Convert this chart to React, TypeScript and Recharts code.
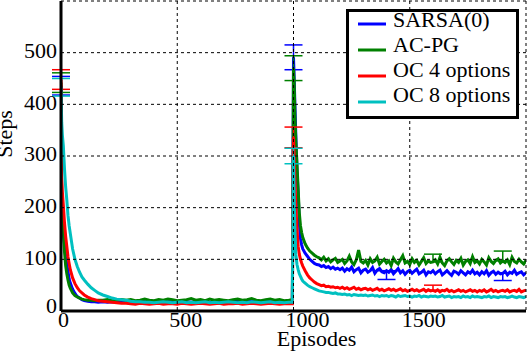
import { CartesianGrid, ErrorBar, Line, LineChart, XAxis, YAxis } from "recharts";

const episodes = [
  0, 3, 6, 10, 15, 20, 25, 30, 35, 40,
  50, 60, 70, 80, 90, 100, 115, 130, 145, 160,
  180, 200, 220, 240, 260, 280,
  300, 320, 340, 360, 380, 400, 420, 440, 460, 480,
  500, 520, 540, 560, 580, 600, 620, 640, 660, 680,
  700, 720, 740, 760, 780, 800, 820, 840, 860, 880,
  900, 920, 940, 960, 980, 995,
  1000, 1003, 1006, 1010, 1015, 1020, 1025, 1030, 1035, 1040,
  1050, 1060, 1070, 1080, 1090, 1100,
  1110, 1120, 1130, 1140, 1150, 1160, 1170, 1180, 1190, 1200,
  1210, 1220, 1230, 1240, 1250, 1260, 1270, 1280, 1290, 1300,
  1310, 1320, 1330, 1340, 1350, 1360, 1370, 1380, 1390, 1400,
  1410, 1420, 1430, 1440, 1450, 1460, 1470, 1480, 1490, 1500,
  1510, 1520, 1530, 1540, 1550, 1560, 1570, 1580, 1590, 1600,
  1610, 1620, 1630, 1640, 1650, 1660, 1670, 1680, 1690, 1700,
  1710, 1720, 1730, 1740, 1750, 1760, 1770, 1780, 1790, 1800,
  1810, 1820, 1830, 1840, 1850, 1860, 1870, 1880, 1890, 1900,
  1910, 1920, 1930, 1940, 1950, 1960, 1970, 1980, 1990, 2000,
];

const sarsa = [
  436, 190, 168, 150, 130, 106, 90, 76, 62, 54,
  42, 34, 28, 25, 22, 20, 19, 18, 18, 17,
  18, 17, 18, 17, 18, 17,
  18, 17, 19, 18, 17, 18, 19, 17, 18, 18,
  17, 19, 18, 17, 18, 19, 18, 17, 18, 19,
  17, 18, 18, 19, 17, 18, 19, 18, 17, 18,
  19, 18, 17, 18, 18, 18,
  491, 450, 400, 340, 270, 230, 170, 140, 128, 120,
  112, 106, 100, 96, 92, 90,
  89, 86, 88, 84, 86, 82, 85, 81, 83, 80,
  83, 77, 82, 79, 85, 76, 80, 83, 74, 79,
  81, 75, 78, 84, 73, 79, 82, 76, 74, 78,
  75, 80, 72, 77, 82, 74, 78, 71, 76, 79,
  73, 77, 81, 72, 75, 79, 70, 76, 74, 78,
  72, 76, 79, 70, 74, 78, 73, 69, 77, 75,
  71, 78, 74, 70, 76, 73, 79, 72, 75, 70,
  76, 72, 78, 69, 74, 77, 71, 75, 72, 73,
  77, 70, 75, 73, 79, 71, 74, 76, 70, 74,
];

const acpg = [
  442, 195, 175, 157, 115, 88, 72, 60, 50, 44,
  35, 30, 27, 25, 23, 22, 21, 21, 20, 21,
  21, 22, 20, 21, 22, 21,
  22, 20, 21, 23, 21, 20, 22, 21, 23, 22,
  20, 21, 22, 24, 21, 22, 20, 23, 21, 22,
  21, 20, 22, 23, 21, 22, 24, 21, 20, 22,
  23, 21, 22, 20, 21, 22,
  470, 440, 380, 330, 285, 235, 190, 165, 152, 142,
  130, 122, 116, 112, 108, 105,
  103, 99, 104, 97, 101, 95, 99, 102, 94, 97,
  100, 92, 97, 106, 95, 90, 99, 118, 96, 93,
  98, 89, 101, 94, 97, 104, 91, 96, 100, 93,
  97, 88, 102, 95, 91, 99, 107, 93, 96, 90,
  101, 94, 98, 89, 96, 103, 92, 97, 94, 95,
  99, 91, 104, 93, 88, 97, 101, 95, 90, 98,
  94, 102, 89, 96, 99, 92, 105, 94, 97, 91,
  100, 95, 89, 103, 96, 92, 98, 101, 93, 97,
  94, 99, 90, 104, 96, 93, 100, 95, 91, 98,
];

const oc4 = [
  448, 258, 230, 205, 171, 145, 125, 105, 92, 80,
  64, 53, 45, 39, 35, 31, 27, 24, 22, 20,
  19, 18, 17, 16, 15, 15,
  14, 13, 15, 14, 13, 14, 15, 13, 14, 14,
  13, 15, 14, 13, 14, 15, 14, 13, 14, 15,
  13, 14, 14, 15, 13, 14, 15, 14, 13, 14,
  15, 14, 13, 14, 14, 14,
  336, 300, 255, 205, 160, 125, 110, 100, 93, 87,
  78, 70, 64, 60, 56, 53,
  51, 49, 50, 47, 48, 46, 47, 45, 46, 44,
  46, 43, 45, 42, 44, 46, 42, 44, 41, 43,
  44, 41, 43, 40, 42, 44, 40, 42, 39, 41,
  43, 40, 42, 39, 41, 43, 39, 41, 38, 40,
  42, 39, 41, 38, 40, 42, 38, 41, 39, 40,
  38, 41, 37, 40, 39, 42, 38, 40, 37, 39,
  41, 38, 40, 37, 39, 41, 38, 40, 37, 40,
  38, 41, 37, 39, 42, 38, 40, 37, 39, 40,
  38, 41, 37, 39, 40, 38, 42, 37, 39, 40,
];

const oc8 = [
  433, 365, 340, 320, 275, 240, 215, 185, 165, 150,
  120, 100, 86, 75, 66, 60, 52, 45, 40, 35,
  31, 28, 25, 23, 22, 21,
  19, 18, 18, 17, 17, 16, 17, 18, 17, 16,
  17, 18, 16, 17, 16, 17, 18, 16, 17, 16,
  17, 18, 17, 16, 17, 16, 18, 17, 16, 17,
  18, 16, 17, 16, 17, 17,
  300, 220, 160, 110, 90, 80, 72, 67, 62, 58,
  54, 50, 47, 45, 43, 41,
  39, 38, 37, 36, 36, 35, 34, 35, 33, 33,
  32, 33, 31, 32, 30, 32, 31, 30, 31, 30,
  31, 29, 30, 31, 29, 30, 28, 30, 29, 30,
  28, 30, 29, 27, 30, 28, 29, 30, 28, 29,
  27, 29, 28, 30, 27, 29, 28, 27, 29, 28,
  29, 27, 28, 30, 27, 28, 29, 26, 28, 27,
  28, 26, 29, 27, 28, 26, 29, 27, 28, 27,
  26, 28, 27, 29, 26, 28, 27, 26, 28, 27,
  28, 26, 27, 29, 27, 26, 28, 27, 26, 28,
];

// [episode, below, above]
const sarsaErr = [[0, 18, 18], [1000, 24, 24], [1400, 17, 0], [1900, 14, 0]];
const acpgErr = [[0, 19, 19], [1000, 24, 24], [1600, 0, 15], [1900, 0, 19]];
const oc4Err = [[0, 19, 19], [1000, 20, 20], [1600, 0, 10]];
const oc8Err = [[0, 17, 17], [1000, 15, 15]];

const xTicks = [0, 500, 1000, 1500];
const yTicks = [0, 100, 200, 300, 400, 500];

const FONT = "Liberation Serif, DejaVu Serif, serif";
const textStyle = { fontFamily: FONT, fontSize: 22 };

const series = [
  { key: "sarsa", name: "SARSA(0)", color: "#0000ff", values: sarsa, errors: sarsaErr },
  { key: "acpg", name: "AC-PG", color: "#008000", values: acpg, errors: acpgErr },
  { key: "oc4", name: "OC 4 options", color: "#ff0000", values: oc4, errors: oc4Err },
  { key: "oc8", name: "OC 8 options", color: "#00c0c0", values: oc8, errors: oc8Err },
];

const errAt = (errors: number[][], ep: number) => {
  const hit = errors.find((e) => e[0] === ep);
  return hit ? [hit[1], hit[2]] : undefined;
};

const data = episodes.map((ep, i) => {
  const row: Record<string, unknown> = { ep };
  for (const s of series) {
    row[s.key] = s.values[i];
    row[s.key + "Err"] = errAt(s.errors, ep);
  }
  return row;
});

function XTick({ x, y, payload }: any) {
  const shift = payload.value === 0 ? -3 : -8;
  return (
    <text x={x + shift} y={y + 16} textAnchor="start" style={textStyle} fill="#000">
      {payload.value}
    </text>
  );
}

function YTick({ x, y, payload }: any) {
  const dy = payload.value === 0 ? 2 : 5.3;
  return (
    <text x={x - 4} y={y + dy} textAnchor="end" style={textStyle} fill="#000">
      {payload.value}
    </text>
  );
}

function XLabel({ viewBox }: any) {
  return (
    <text
      x={viewBox.x + viewBox.width / 2 + 23}
      y={viewBox.y + 35}
      textAnchor="middle"
      style={textStyle}
      fill="#000"
    >
      Episodes
    </text>
  );
}

function YLabel({ viewBox }: any) {
  const cx = viewBox.x + 12;
  const cy = viewBox.y + viewBox.height / 2 - 22;
  return (
    <text
      transform={`translate(${cx},${cy}) rotate(-90)`}
      textAnchor="middle"
      style={textStyle}
      fill="#000"
    >
      Steps
    </text>
  );
}

function LegendBox() {
  return (
    <div
      style={{
        position: "absolute",
        left: 346,
        top: 9,
        width: 173,
        height: 110,
        border: "3px solid #000",
        boxSizing: "border-box",
        background: "#fff",
      }}
    >
      <svg width={167} height={104} style={{ display: "block", overflow: "visible" }}>
        {series.map((s, i) => (
          <g key={s.key}>
            <line x1={9} x2={37} y1={12 + 26 * i} y2={12 + 26 * i} stroke={s.color} strokeWidth={3} />
            <text x={44} y={15 + 25 * i} style={textStyle} fill="#000">
              {s.name}
            </text>
          </g>
        ))}
      </svg>
    </div>
  );
}

export default function App() {
  return (
    <div
      style={{
        position: "absolute",
        left: 0,
        top: 0,
        width: 528,
        height: 352,
        background: "#fff",
        fontFamily: FONT,
      }}
    >
      <LineChart width={528} height={352} data={data} margin={{ top: 1, right: 2, bottom: 0, left: 0 }}>
        <XAxis
          dataKey="ep"
          type="number"
          domain={[0, 2000]}
          ticks={xTicks}
          allowDataOverflow
          height={41}
          tickLine={false}
          tickSize={0}
          tickMargin={0}
          tick={XTick}
          axisLine={{ stroke: "#000", strokeWidth: 3 }}
          label={XLabel}
        />
        <YAxis
          type="number"
          domain={[0, 600]}
          ticks={yTicks}
          allowDataOverflow
          width={61}
          tickLine={false}
          tickSize={0}
          tickMargin={0}
          tick={YTick}
          axisLine={{ stroke: "#000", strokeWidth: 3 }}
          label={YLabel}
        />
        <XAxis
          xAxisId="top"
          orientation="top"
          type="number"
          domain={[0, 1]}
          height={0}
          tick={false}
          tickLine={false}
          axisLine={{ stroke: "#000", strokeWidth: 3 }}
        />
        <YAxis
          yAxisId="right"
          orientation="right"
          type="number"
          domain={[0, 1]}
          width={0}
          tick={false}
          tickLine={false}
          axisLine={{ stroke: "#000", strokeWidth: 3 }}
        />
        {series.map((s) => (
          <Line
            key={s.key}
            type="linear"
            dataKey={s.key}
            stroke={s.color}
            strokeWidth={3}
            dot={false}
            activeDot={false}
            isAnimationActive={false}
          >
            <ErrorBar
              dataKey={s.key + "Err"}
              direction="y"
              width={9}
              stroke={s.color}
              strokeWidth={1.5}
              isAnimationActive={false}
            />
          </Line>
        ))}
        <CartesianGrid stroke="#000" strokeDasharray="3 3" zIndex={450} />
      </LineChart>
      <LegendBox />
    </div>
  );
}
